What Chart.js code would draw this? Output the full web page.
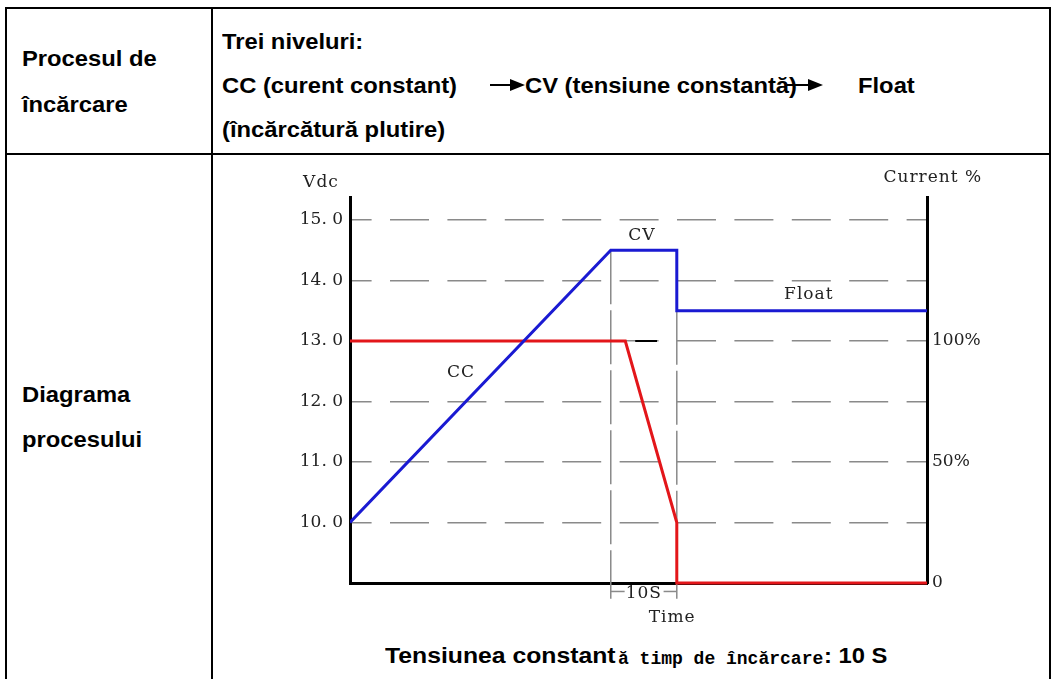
<!DOCTYPE html>
<html>
<head>
<meta charset="utf-8">
<script src="https://cdn.jsdelivr.net/npm/chart.js@4.4.0/dist/chart.umd.min.js"></script>
<style>
  html, body { margin: 0; padding: 0; background: #fff; }
  body { width: 1061px; height: 679px; position: relative; overflow: hidden; }
  .ln { position: absolute; background: #000; }
  .t { position: absolute; font: bold 22px "Liberation Sans", Arial, sans-serif; color: #000;
       white-space: nowrap; line-height: 1; transform: scaleX(1.08); transform-origin: 0 0; }
  .m { position: absolute; font: bold 18px "Liberation Mono", monospace; color: #000;
       white-space: nowrap; line-height: 1; }
  .tri { position: absolute; width: 0; height: 0; border-left: 15px solid #000;
         border-top: 6px solid transparent; border-bottom: 6px solid transparent; }
  #wrap { position: absolute; left: 0; top: 0; width: 1061px; height: 679px; }
</style>
</head>
<body>
<!-- table frame -->
<div class="ln" style="left:5px;top:7px;width:1046px;height:2px"></div>
<div class="ln" style="left:5px;top:153px;width:1046px;height:2px"></div>
<div class="ln" style="left:5px;top:7px;width:2px;height:672px"></div>
<div class="ln" style="left:211px;top:7px;width:2px;height:672px"></div>
<div class="ln" style="left:1049px;top:7px;width:2px;height:672px"></div>

<div class="t" style="left:22px;top:48px">Procesul de</div>
<div class="t" style="left:22px;top:94px">încărcare</div>
<div class="t" style="left:22px;top:384px">Diagrama</div>
<div class="t" style="left:22px;top:429px">procesului</div>

<div class="t" style="left:222px;top:31px">Trei niveluri:</div>
<div class="t" style="left:222px;top:75px">CC (curent constant)</div>
<div class="ln" style="left:490px;top:84px;width:22px;height:2px"></div>
<div class="tri" style="left:510px;top:79px"></div>
<div class="t" style="left:525px;top:75px">CV (tensiune constantă)</div>
<div class="ln" style="left:787px;top:84px;width:23px;height:2px"></div>
<div class="tri" style="left:808px;top:79px"></div>
<div class="t" style="left:858px;top:75px">Float</div>
<div class="t" style="left:222px;top:119px">(încărcătură plutire)</div>

<div class="t" style="left:385px;top:645px;transform:scaleX(1.125)">Tensiunea constant</div>
<div class="m" style="left:618px;top:650px">ă timp de încărcare</div>
<div class="t" style="left:824px;top:645px">: 10 S</div>

<div id="wrap"><canvas id="chargeChart"></canvas></div>

<script>
// axis ticks
const voltTicks = [10, 11, 12, 13, 14, 15];
const currentTicks = [0, 50, 100];

// blue line: charging voltage (Vdc), time in seconds
const voltTime = [0, 39.5, 49.5, 49.5, 87.4];
const voltValues = [10, 14.5, 14.5, 13.5, 13.5];

// red line: charging current (%)
const currentTime = [0, 41.7, 49.5, 49.5, 87.4];
const currentValues = [100, 100, 25, 0, 0];

// short black dash on the 13.0 line
const markTime = [43.2, 46.5];
const markVolt = [13, 13];

// the 10 S constant voltage window
const windowTime = [39.5, 49.5];
const windowTop = [14.5, 13.5];

const below = 8.74;   // where the window lines stop under the axis
const bracketY = 8.86;

const pts = (xs, ys) => xs.map((x, i) => ({x: x, y: ys[i]}));

const grayLine = {
    borderColor: '#8a8a8a',
    borderWidth: 1.5,
    borderDash: [54, 6],
    pointRadius: 0,
    clip: false,
    yAxisID: 'y'
};

const notes = [
    {text: 'Vdc', x: -4.4, y: 15.62, align: 'center'},
    {text: 'Current %', x: 80.8, y: 15.7, align: 'left'},
    {text: 'CV', x: 44.2, y: 14.75, align: 'center'},
    {text: 'CC', x: 16.8, y: 12.47, align: 'center'},
    {text: 'Float', x: 69.5, y: 13.76, align: 'center'},
    {text: '10S', x: 44.5, y: 8.82, align: 'center'},
    {text: 'Time', x: 48.8, y: 8.43, align: 'center'}
];

const notePlugin = {
    id: 'notes',
    afterDatasetsDraw(chart) {
        const {ctx, scales: {x, y}} = chart;
        ctx.save();
        ctx.font = '17px "DejaVu Serif"';
        ctx.letterSpacing = '1px';
        ctx.fillStyle = '#222';
        ctx.textBaseline = 'middle';
        notes.forEach(n => {
            ctx.textAlign = n.align;
            ctx.fillText(n.text, x.getPixelForValue(n.x), y.getPixelForValue(n.y));
        });
        ctx.restore();
    }
};

new Chart(document.getElementById('chargeChart'), {
    type: 'line',
    data: {
        datasets: [
            {
                label: 'Vdc',
                data: pts(voltTime, voltValues),
                borderColor: '#1a1ad2',
                borderWidth: 3,
                pointRadius: 0,
                yAxisID: 'y'
            },
            {
                label: 'Current %',
                data: pts(currentTime, currentValues),
                borderColor: '#e3161a',
                borderWidth: 3,
                pointRadius: 0,
                clip: false,
                yAxisID: 'y1'
            },
            {
                data: pts(markTime, markVolt),
                borderColor: '#000',
                borderWidth: 2,
                pointRadius: 0,
                yAxisID: 'y'
            },
            Object.assign({data: [{x: windowTime[0], y: windowTop[0]}, {x: windowTime[0], y: below}]}, grayLine),
            Object.assign({data: [{x: windowTime[1], y: windowTop[1]}, {x: windowTime[1], y: below}]}, grayLine),
            Object.assign({}, grayLine, {borderDash: [], data: [{x: windowTime[0], y: bracketY}, {x: windowTime[0] + 2.1, y: bracketY}]}),
            Object.assign({}, grayLine, {borderDash: [], data: [{x: windowTime[1] - 2, y: bracketY}, {x: windowTime[1], y: bracketY}]})
        ]
    },
    options: {
        responsive: true,
        maintainAspectRatio: false,
        animation: false,
        events: [],
        layout: {padding: {top: 197, left: 0, right: 0, bottom: 0}},
        plugins: {legend: {display: false}, tooltip: {enabled: false}},
        elements: {line: {tension: 0, borderJoinStyle: 'miter'}},
        scales: {
            x: {
                type: 'linear',
                min: 0,
                max: 87.4,
                grid: {display: false},
                ticks: {display: false},
                border: {display: true, color: '#000', width: 3},
                afterFit(s) { s.height = 96; }
            },
            y: {
                position: 'left',
                min: 9,
                max: 15.38,
                afterBuildTicks(s) { s.ticks = voltTicks.map(v => ({value: v})); },
                afterFit(s) { s.width = 350; },
                grid: {color: '#8a8a8a', lineWidth: 1.5, drawTicks: false},
                border: {display: true, color: '#000', width: 3, dash: [39, 18.4], dashOffset: 19.4},
                ticks: {
                    padding: 7,
                    color: '#222',
                    font: {family: 'DejaVu Serif', size: 17},
                    callback: v => v.toFixed(1).replace('.', '. ')
                }
            },
            y1: {
                position: 'right',
                min: 0,
                max: 159.5,
                afterBuildTicks(s) { s.ticks = currentTicks.map(v => ({value: v})); },
                afterFit(s) { s.width = 134; },
                grid: {display: false, drawTicks: false},
                border: {display: true, color: '#000', width: 3},
                ticks: {
                    padding: 5,
                    color: '#222',
                    font: {family: 'DejaVu Serif', size: 17},
                    callback: v => v === 0 ? '0' : v + '%'
                }
            }
        }
    },
    plugins: [notePlugin]
});
</script>
</body>
</html>
